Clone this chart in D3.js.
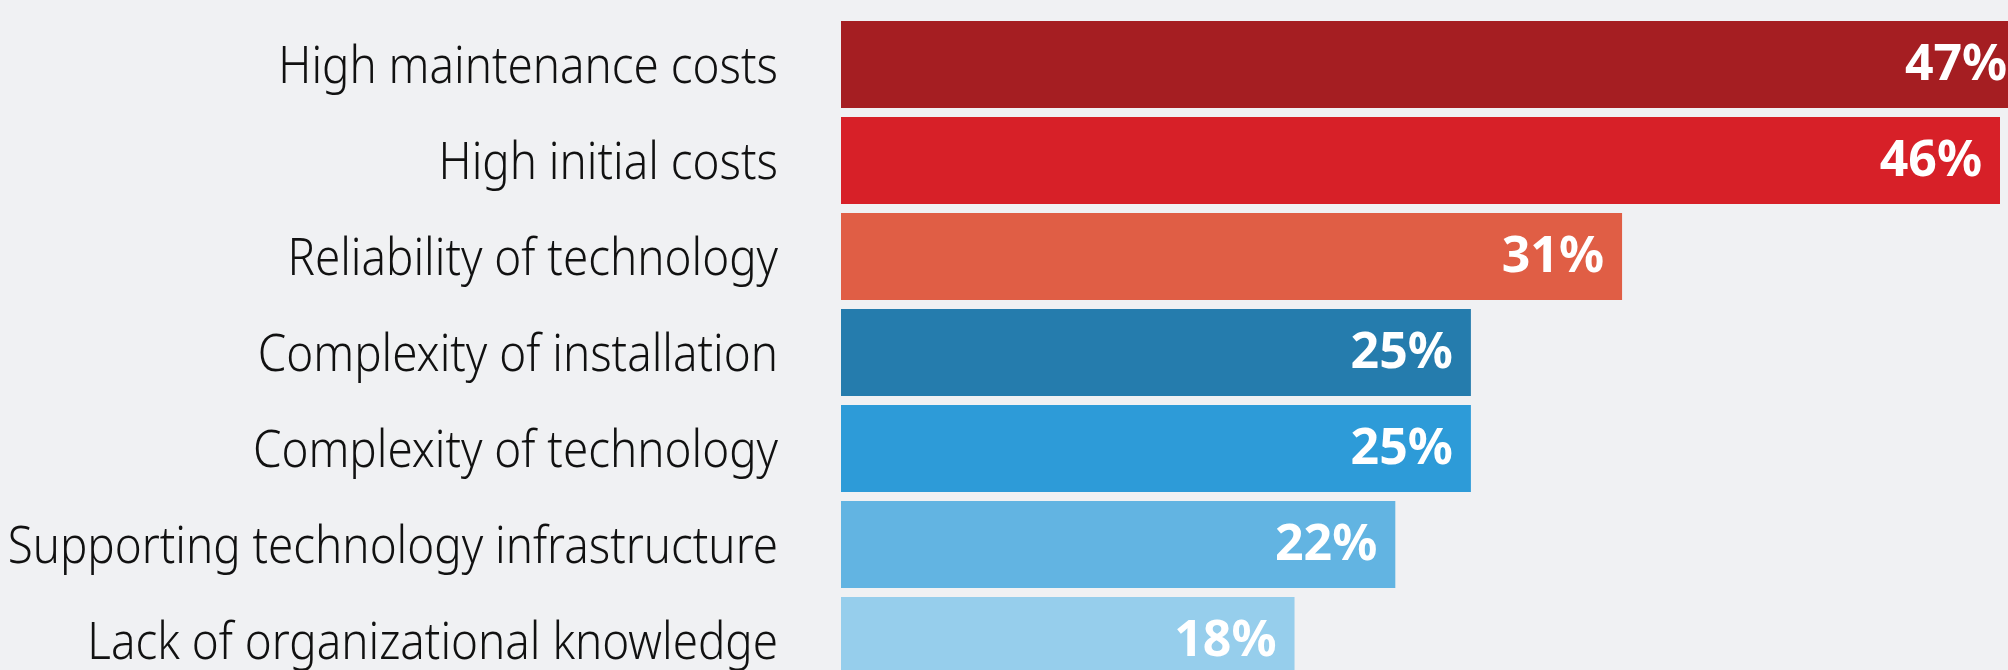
<!DOCTYPE html>
<html>
<head>
<meta charset="utf-8">
<script src="https://cdn.jsdelivr.net/npm/d3@7"></script>
<style>
  html, body { margin: 0; padding: 0; background: #f0f1f3; }
  svg { display: block; }
</style>
</head>
<body>
<div id="container"></div>
<script>
// DATA
const categories = [
  "High maintenance costs",
  "High initial costs",
  "Reliability of technology",
  "Complexity of installation",
  "Complexity of technology",
  "Supporting technology infrastructure",
  "Lack of organizational knowledge"
];
const values = [47, 46, 31, 25, 25, 22, 18];
const barColors = ["#a51e22", "#d72028", "#e05e45", "#257cad", "#2d9bd8", "#62b4e2", "#96ceec"];

// CONSTANTS
const width = 2008,
    height = 670,
    margin = {top: 21, left: 841},
    step = 96,
    gap = 9;

const svg = d3.select("#container")
  .append("svg")
  .attr("width", width)
  .attr("height", height);

// SCALES
const xScale = d3.scaleLinear()
  .domain([0, 46])
  .range([margin.left, 2000]);

const yScale = d3.scaleBand()
  .domain(categories)
  .range([margin.top, margin.top + step * categories.length - gap])
  .paddingInner(gap / step)
  .paddingOuter(0);

// bars
svg.selectAll("rect.bar")
  .data(values)
  .join("rect")
  .attr("class", "bar")
  .attr("x", xScale(0))
  .attr("y", (d, i) => yScale(categories[i]))
  .attr("width", d => xScale(d) - xScale(0))
  .attr("height", yScale.bandwidth())
  .attr("fill", (d, i) => barColors[i]);

// category labels (squeezed a bit, the original face is narrower than Noto)
const labelGroup = svg.append("g")
  .attr("transform", `translate(${xScale(0) - 63}, 0) scale(0.88, 1)`);

labelGroup.selectAll("text.cat")
  .data(categories)
  .join("text")
  .attr("class", "cat")
  .attr("x", 0)
  .attr("y", d => yScale(d) + yScale.bandwidth() / 2)
  .attr("dy", "0.35em")
  .attr("text-anchor", "end")
  .style("font-family", "'Noto Sans', sans-serif")
  .style("font-weight", 300)
  .style("font-size", "52px")
  .style("fill", "#111")
  .text(d => d);

// value labels
svg.selectAll("text.val")
  .data(values)
  .join("text")
  .attr("class", "val")
  .attr("x", d => xScale(d) - 18)
  .attr("y", (d, i) => yScale(categories[i]) + yScale.bandwidth() / 2)
  .attr("dy", "0.31em")
  .attr("text-anchor", "end")
  .style("font-family", "'Noto Sans', sans-serif")
  .style("font-weight", 700)
  .style("font-size", "50px")
  .style("fill", "#fff")
  .text(d => d + "%");
</script>
</body>
</html>
